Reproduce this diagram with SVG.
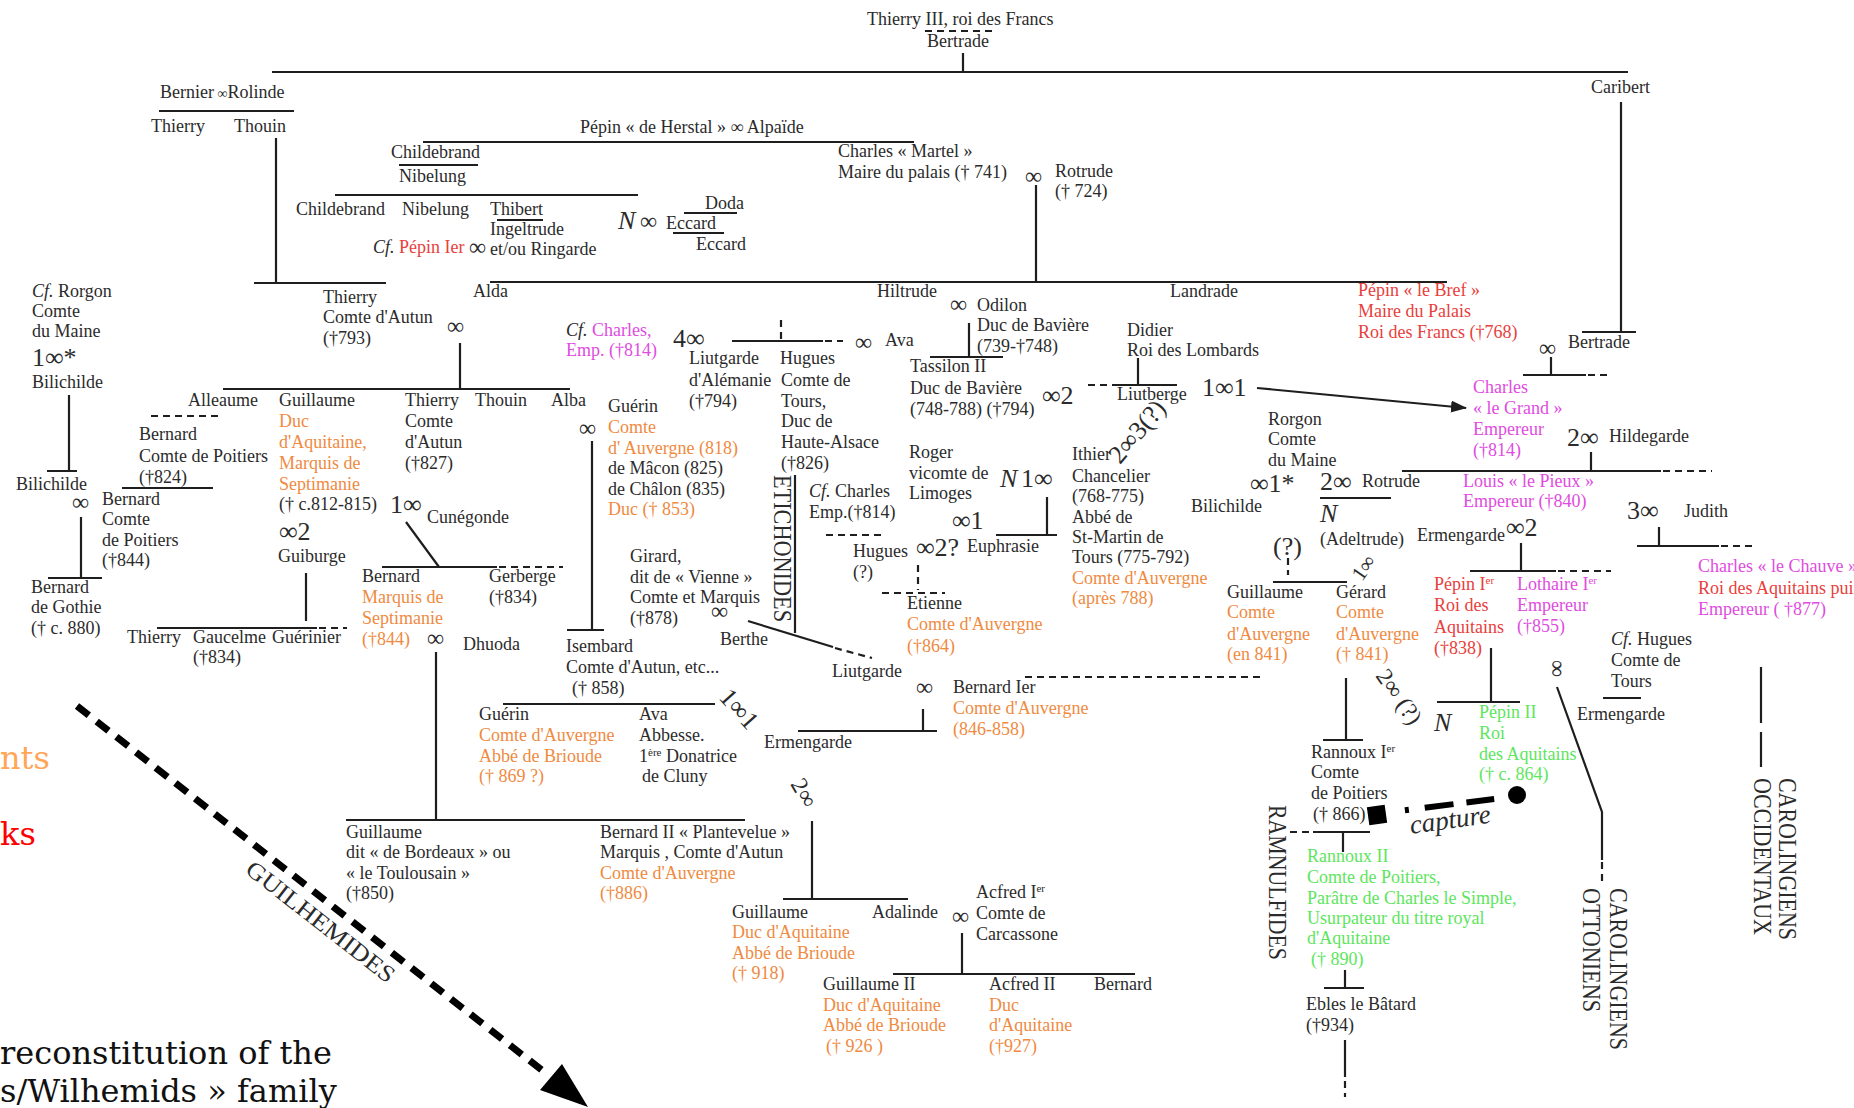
<svg xmlns="http://www.w3.org/2000/svg" width="1854" height="1108" viewBox="0 0 1854 1108">
<style>
text{font-family:"Liberation Serif","Times New Roman",serif;font-size:18px;fill:#2b2b2b}
.o{fill:#ef8a3f}.r{fill:#e8403c}.m{fill:#e04ce0}.g{fill:#5ce65c}
.i{font-style:italic}
.b{font-size:26px}
.inf{font-size:24px}
.lab{font-size:26px}
.sup{font-size:11px}
.dv{font-family:"DejaVu Serif",serif;font-size:32px}
.ln{stroke:#1e1e1e;stroke-width:2.2;fill:none}
.ds{stroke:#1e1e1e;stroke-width:2.2;fill:none;stroke-dasharray:7 5}
</style>
<defs>
<marker id="ah" markerWidth="16" markerHeight="12" refX="15" refY="6" orient="auto" markerUnits="userSpaceOnUse"><path d="M0,0 L16,6 L0,12 z" fill="#1e1e1e"/></marker>
</defs>

<g id="connectors">
<path class="ln" d="M272,72 H1628 M963,53 V72"/>
<path class="ds" d="M925,31 H993" stroke-dasharray="6 4"/>
<path class="ln" d="M159,111 H294 M276,138 V283 M254,283 H386"/>
<path class="ln" d="M423,142 H914 M399,165 H478 M335,195 H638 M497,220 H543"/>
<path class="ln" d="M684,213 H737 M673,233 H724"/>
<path class="ln" d="M1036,185 V282 M490,282 H1447"/>
<path class="ln" d="M1621,102 V332 M1582,332 H1636"/>
<path class="ln" d="M1551,357 V375 M1523,375 H1586"/>
<path class="ds" d="M1588,375 H1611"/>
<path class="ln" d="M460,343 V389 M223,389 H570"/>
<path class="ds" d="M151,416 H218"/>
<path class="ln" d="M122,488 H213"/>
<path class="ln" d="M69,395 V471 M47,471 H77 M81,517 V578 M48,578 H102"/>
<path class="ln" d="M306,573 V621 M157,628 H317"/>
<path class="ds" d="M319,628 H347"/>
<path class="ln" d="M406,522 L439,567 M382,567 H497"/>
<path class="ds" d="M499,567 H563"/>
<path class="ln" d="M436,652 V820 M346,820 H745"/>
<path class="ln" d="M592,441 V630 M567,630 H604 M503,704 H715"/>
<path class="ln" d="M732,341 H823"/>
<path class="ds" d="M825,341 H843 M781,320 V341"/>
<path class="ln" d="M969,323 V357 M930,357 H1003"/>
<path class="ln" d="M1138,358 V385 M1112,385 H1177"/>
<path class="ds" d="M1088,385 H1110"/>
<path class="ln" d="M1257,388 L1466,408" marker-end="url(#ah)"/>
<path class="ln" d="M1591,452 V471 M1402,471 H1661"/>
<path class="ds" d="M1663,471 H1712"/>
<path class="ln" d="M1320,498 H1391"/>
<path class="ln" d="M1659,527 V546 M1637,546 H1719"/>
<path class="ds" d="M1721,546 H1757"/>
<path class="ln" d="M1521,543 V571 M1470,571 H1556"/>
<path class="ds" d="M1558,571 H1611"/>
<path class="ds" d="M1288,558 V575"/>
<path class="ln" d="M1273,582 H1347"/>
<path class="ds" d="M1025,677 H1262" stroke-dasharray="6 4"/>
<path class="ln" d="M1346,678 V740 M1323,740 H1363"/>
<path class="ln" d="M1491,648 V702 M1437,702 H1520"/>
<path class="ln" d="M1557,687 L1602,812 V860"/>
<path class="ds" d="M1602,862 V885" stroke-dasharray="5 6"/>
<path class="ln" d="M1603,698 H1641"/>
<path class="ln" d="M1761,667 V723 M1761,732 V767"/>
<path class="ln" d="M795,475 V633"/>
<path class="ds" d="M826,535 H881"/>
<path class="ds" d="M918,565 V590 M882,593 H945"/>
<path class="ln" d="M1047,497 V535 M996,535 H1057"/>
<path class="ln" d="M748,621 L833,647"/>
<path class="ds" d="M835,648 L872,658"/>
<path class="ln" d="M923,709 V731 M798,731 H937"/>
<path class="ds" d="M1290,832 H1313"/>
<path class="ln" d="M1313,832 H1370 M1343,832 V852"/>
<path class="ln" d="M1345,970 V988 M1324,988 H1364 M1345,1040 V1077"/>
<path class="ds" d="M1345,1081 V1097" stroke-dasharray="4 7"/>
<path class="ln" d="M812,821 V899 M783,899 H908"/>
<path class="ln" d="M962,933 V974 M893,974 H1135"/>
<g id="capture-link">
<rect x="1368" y="806" width="18" height="18" fill="#000" transform="rotate(-8 1377 815)"/>
<path d="M1391,812 L1510,797" stroke="#000" stroke-width="6" fill="none" stroke-dasharray="0 14 4 16 29 13 28 40"/>
<circle cx="1517" cy="795" r="9" fill="#000"/>
</g>
<g id="guilhemides-arrow">
<path d="M77,706 L548,1075" stroke="#000" stroke-width="7" fill="none" stroke-dasharray="15 10"/>
<polygon points="540,1090 562,1064 588,1107" fill="#000"/>
</g>
</g>

<g id="n-thierry3"><text x="867" y="25">Thierry III, roi des Francs</text><text x="927" y="47">Bertrade</text></g>
<g id="n-bernier"><text x="160" y="98">Bernier<tspan style="font-size:14px"> ∞</tspan>Rolinde</text></g>
<g id="n-thierry-a"><text x="151" y="132">Thierry</text></g>
<g id="n-thouin-a"><text x="234" y="132">Thouin</text></g>
<g id="n-caribert"><text x="1591" y="93">Caribert</text></g>
<g id="n-pepin-herstal"><text x="580" y="133">Pépin « de Herstal »  ∞ Alpaïde</text></g>
<g id="n-childebrand1"><text x="391" y="158">Childebrand</text></g>
<g id="n-nibelung1"><text x="399" y="182">Nibelung</text></g>
<g id="n-charles-martel"><text x="838" y="157">Charles « Martel »</text><text x="838" y="178">Maire du palais († 741)</text><text class="inf" x="1025" y="184">∞</text></g>
<g id="n-rotrude"><text x="1055" y="177">Rotrude</text><text x="1055" y="197">(† 724)</text></g>
<g id="n-childebrand2"><text x="296" y="215">Childebrand</text></g>
<g id="n-nibelung2"><text x="402" y="215">Nibelung</text></g>
<g id="n-thibert"><text x="490" y="215">Thibert</text><text x="490" y="235">Ingeltrude</text><text x="490" y="255">et/ou Ringarde</text></g>
<g id="n-pepin-cf"><text x="373" y="253"><tspan class="i">Cf.</tspan> <tspan class="r">Pépin Ier</tspan></text><text class="inf" x="469" y="255">∞</text></g>
<g id="n-eccard"><text class="b i" x="618" y="229">N</text><text class="inf" x="640" y="229">∞</text><text x="666" y="229">Eccard</text></g>
<g id="n-doda"><text x="705" y="209">Doda</text><text x="696" y="250">Eccard</text></g>
<g id="n-alda"><text x="473" y="297">Alda</text></g>
<g id="n-hiltrude"><text x="877" y="297">Hiltrude</text></g>
<g id="n-landrade"><text x="1170" y="297">Landrade</text></g>
<g id="n-pepin-bref"><text class="r" x="1358" y="296">Pépin « le Bref »</text><text class="r" x="1358" y="317">Maire du Palais</text><text class="r" x="1358" y="338">Roi des Francs (†768)</text></g>
<g id="n-thierry-autun"><text x="323" y="303">Thierry</text><text x="323" y="323">Comte d'Autun</text><text x="323" y="344">(†793)</text><text class="inf" x="447" y="334">∞</text></g>
<g id="n-rorgon-cf"><text x="32" y="297"><tspan class="i">Cf.</tspan> Rorgon</text><text x="32" y="317">Comte</text><text x="32" y="337">du Maine</text><text class="b" x="32" y="366">1∞*</text><text x="32" y="388">Bilichilde</text></g>
<g id="n-charles-cf1"><text x="566" y="336"><tspan class="i">Cf.</tspan> <tspan class="m">Charles,</tspan></text><text class="m" x="566" y="356">Emp. (†814)</text></g>
<g id="n-4"><text class="b" x="673" y="347">4∞</text></g>
<g id="n-ava1"><text class="inf" x="855" y="350">∞</text><text x="885" y="346">Ava</text></g>
<g id="n-odilon"><text class="inf" x="950" y="312">∞</text><text x="977" y="311">Odilon</text><text x="977" y="331">Duc de Bavière</text><text x="977" y="352">(739-†748)</text></g>
<g id="n-didier"><text x="1127" y="336">Didier</text><text x="1127" y="356">Roi des Lombards</text></g>
<g id="n-bertrade2"><text class="inf" x="1539" y="356">∞</text><text x="1568" y="348">Bertrade</text></g>
<g id="n-liutgarde1"><text x="689" y="364">Liutgarde</text><text x="689" y="386">d'Alémanie</text><text x="689" y="407">(†794)</text></g>
<g id="n-hugues-tours"><text x="780" y="364">Hugues</text><text x="781" y="386">Comte de</text><text x="781" y="407">Tours,</text><text x="781" y="427">Duc de</text><text x="781" y="448">Haute-Alsace</text><text x="781" y="469">(†826)</text></g>
<g id="n-tassilon"><text x="910" y="372">Tassilon II</text><text x="910" y="394">Duc de Bavière</text><text x="910" y="415">(748-788) (†794)</text><text class="b" x="1042" y="404">∞2</text></g>
<g id="n-liutberge"><text x="1117" y="400">Liutberge</text><text class="b" x="1202" y="396">1∞1</text><text class="b" transform="translate(1120,465) rotate(-50)">2∞3(?)</text></g>
<g id="n-charlemagne"><text class="m" x="1473" y="393">Charles</text><text class="m" x="1473" y="414">« le Grand »</text><text class="m" x="1473" y="435">Empereur</text><text class="m" x="1473" y="456">(†814)</text></g>
<g id="n-hildegarde"><text class="b" x="1567" y="446">2∞</text><text x="1609" y="442">Hildegarde</text></g>
<g id="n-alleaume"><text x="188" y="406">Alleaume</text></g>
<g id="n-guillaume-gellone"><text x="279" y="406">Guillaume</text><text class="o" x="279" y="427">Duc</text><text class="o" x="279" y="448">d'Aquitaine,</text><text class="o" x="279" y="469">Marquis de</text><text class="o" x="279" y="490">Septimanie</text><text x="279" y="510">(† c.812-815)</text></g>
<g id="n-thierry-827"><text x="405" y="406">Thierry</text><text x="405" y="427">Comte</text><text x="405" y="448">d'Autun</text><text x="405" y="469">(†827)</text></g>
<g id="n-thouin-b"><text x="475" y="406">Thouin</text></g>
<g id="n-alba"><text x="551" y="406">Alba</text></g>
<g id="n-bernard-824"><text x="139" y="440">Bernard</text><text x="139" y="462">Comte de Poitiers</text><text x="139" y="483">(†824)</text></g>
<g id="n-guerin1"><text class="inf" x="579" y="436">∞</text><text x="608" y="412">Guérin</text><text class="o" x="608" y="433">Comte</text><text class="o" x="608" y="454">d' Auvergne (818)</text><text x="608" y="474">de Mâcon (825)</text><text x="608" y="495">de Châlon (835)</text><text class="o" x="608" y="515">Duc († 853)</text></g>
<g id="n-rorgon"><text x="1268" y="425">Rorgon</text><text x="1268" y="445">Comte</text><text x="1268" y="466">du Maine</text></g>
<g id="n-roger"><text x="909" y="458">Roger</text><text x="909" y="479">vicomte de</text><text x="909" y="499">Limoges</text><text class="b i" x="1000" y="487">N</text><text class="b" x="1021" y="487">1∞</text></g>
<g id="n-ithier"><text x="1072" y="460">Ithier</text><text x="1072" y="482">Chancelier</text><text x="1072" y="502">(768-775)</text><text x="1072" y="523">Abbé de</text><text x="1072" y="543">St-Martin de</text><text x="1072" y="563">Tours (775-792)</text><text class="o" x="1072" y="584">Comte d'Auvergne</text><text class="o" x="1072" y="604">(après 788)</text></g>
<g id="n-bilichilde2"><text class="b" x="1250" y="492">∞1*</text><text x="1191" y="512">Bilichilde</text></g>
<g id="n-rotrude2"><text class="b" x="1320" y="490">2∞</text><text x="1362" y="487">Rotrude</text><text class="b i" x="1320" y="522">N</text><text x="1320" y="545">(Adeltrude)</text><text class="b" x="1273" y="555">(?)</text><text style="font-size:21px" transform="translate(1362,582) rotate(-55)">1∞</text></g>
<g id="n-louis"><text class="m" x="1463" y="487">Louis « le Pieux »</text><text class="m" x="1463" y="507">Empereur (†840)</text></g>
<g id="n-judith"><text class="b" x="1627" y="519">3∞</text><text x="1684" y="517">Judith</text></g>
<g id="n-ermengarde1"><text x="1417" y="541">Ermengarde</text><text class="b" x="1506" y="536">∞2</text></g>
<g id="n-charles-cf2"><text x="809" y="497"><tspan class="i">Cf.</tspan> Charles</text><text x="809" y="518">Emp.(†814)</text></g>
<g id="n-cunegonde"><text class="b" x="390" y="513">1∞</text><text x="427" y="523">Cunégonde</text></g>
<g id="n-bilichilde1"><text x="16" y="490">Bilichilde</text><text class="inf" x="72" y="510">∞</text></g>
<g id="n-bernard-844"><text x="102" y="505">Bernard</text><text x="102" y="525">Comte</text><text x="102" y="546">de Poitiers</text><text x="102" y="566">(†844)</text></g>
<g id="n-guiburge"><text class="b" x="279" y="540">∞2</text><text x="278" y="562">Guiburge</text></g>
<g id="n-bernard-gothie"><text x="31" y="593">Bernard</text><text x="31" y="613">de Gothie</text><text x="31" y="634">(† c. 880)</text></g>
<g id="n-bernard-septimanie"><text x="362" y="582">Bernard</text><text class="o" x="362" y="603">Marquis de</text><text class="o" x="362" y="624">Septimanie</text><text class="o" x="362" y="645">(†844)</text></g>
<g id="n-gerberge"><text x="489" y="582">Gerberge</text><text x="489" y="603">(†834)</text></g>
<g id="n-dhuoda"><text class="inf" x="427" y="646">∞</text><text x="463" y="650">Dhuoda</text></g>
<g id="n-thierry-b"><text x="127" y="643">Thierry</text></g>
<g id="n-gaucelme"><text x="193" y="643">Gaucelme</text><text x="193" y="663">(†834)</text></g>
<g id="n-guerinier"><text x="272" y="643">Guérinier</text></g>
<g id="n-euphrasie"><text class="b" x="952" y="529">∞1</text><text class="b" x="916" y="556">∞2?</text><text x="967" y="552">Euphrasie</text></g>
<g id="n-hugues2"><text x="853" y="557">Hugues</text><text x="853" y="578">(?)</text></g>
<g id="n-girard"><text x="630" y="562">Girard,</text><text x="630" y="583">dit de « Vienne »</text><text x="630" y="603">Comte et Marquis</text><text x="630" y="624">(†878)</text><text class="inf" x="711" y="619">∞</text></g>
<g id="n-berthe"><text x="720" y="645">Berthe</text></g>
<g id="n-etienne"><text x="907" y="609">Etienne</text><text class="o" x="907" y="630">Comte d'Auvergne</text><text class="o" x="907" y="652">(†864)</text></g>
<g id="n-isembard"><text x="566" y="652">Isembard</text><text x="566" y="673">Comte d'Autun, etc...</text><text x="572" y="694">(† 858)</text><text class="b" transform="translate(718,698) rotate(48)">1∞1</text></g>
<g id="n-liutgarde2"><text x="832" y="677">Liutgarde</text></g>
<g id="n-bernard1"><text class="inf" x="916" y="695">∞</text><text x="953" y="693">Bernard Ier</text><text class="o" x="953" y="714">Comte d'Auvergne</text><text class="o" x="953" y="735">(846-858)</text></g>
<g id="n-guillaume-841"><text x="1227" y="598">Guillaume</text><text class="o" x="1227" y="618">Comte</text><text class="o" x="1227" y="640">d'Auvergne</text><text class="o" x="1227" y="660">(en 841)</text></g>
<g id="n-gerard"><text x="1336" y="598">Gérard</text><text class="o" x="1336" y="618">Comte</text><text class="o" x="1336" y="640">d'Auvergne</text><text class="o" x="1336" y="660">(† 841)</text></g>
<g id="n-pepin1"><text class="r" x="1434" y="590">Pépin I<tspan class="sup" baseline-shift="super">er</tspan></text><text class="r" x="1434" y="611">Roi des</text><text class="r" x="1434" y="633">Aquitains</text><text class="r" x="1434" y="654">(†838)</text></g>
<g id="n-lothaire"><text class="m" x="1517" y="590">Lothaire I<tspan class="sup" baseline-shift="super">er</tspan></text><text class="m" x="1517" y="611">Empereur</text><text class="m" x="1517" y="632">(†855)</text><text class="inf" transform="translate(1550,660) rotate(90)">∞</text></g>
<g id="n-charles-chauve"><text class="m" x="1698" y="572">Charles « le Chauve »</text><text class="r" x="1698" y="594">Roi des Aquitains puis</text><text class="m" x="1698" y="615">Empereur ( †877)</text></g>
<g id="n-hugues-cf"><text x="1611" y="645"><tspan class="i">Cf.</tspan> Hugues</text><text x="1611" y="666">Comte de</text><text x="1611" y="687">Tours</text></g>
<g id="n-ermengarde3"><text x="1577" y="720">Ermengarde</text></g>
<g id="n-guerin2"><text x="479" y="720">Guérin</text><text class="o" x="479" y="741">Comte d'Auvergne</text><text class="o" x="479" y="762">Abbé de Brioude</text><text class="o" x="479" y="782">(† 869 ?)</text></g>
<g id="n-ava2"><text x="639" y="720">Ava</text><text x="639" y="741">Abbesse.</text><text x="639" y="762">1<tspan class="sup" baseline-shift="super">ère</tspan> Donatrice</text><text x="642" y="782">de Cluny</text></g>
<g id="n-ermengarde2"><text x="764" y="748">Ermengarde</text></g>
<g id="n-n2"><text style="font-size:24px" transform="translate(1375,676) rotate(55)">2∞ (?)</text><text class="b i" x="1434" y="731">N</text></g>
<g id="n-pepin2"><text class="g" x="1479" y="718">Pépin II</text><text class="g" x="1479" y="739">Roi</text><text class="g" x="1479" y="760">des Aquitains</text><text class="g" x="1479" y="780">(† c. 864)</text></g>
<g id="n-rannoux1"><text x="1311" y="758">Rannoux I<tspan class="sup" baseline-shift="super">er</tspan></text><text x="1311" y="778">Comte</text><text x="1311" y="799">de Poitiers</text><text x="1313" y="820">(† 866)</text></g>
<g id="n-capture"><text class="i" style="font-size:27px" transform="translate(1411,834) rotate(-8)">capture</text></g>
<g id="n-rannoux2"><text class="g" x="1307" y="862">Rannoux II</text><text class="g" x="1307" y="883">Comte de Poitiers,</text><text class="g" x="1307" y="904">Parâtre de Charles le Simple,</text><text class="g" x="1307" y="924">Usurpateur du titre royal</text><text class="g" x="1307" y="944">d'Aquitaine</text><text class="g" x="1311" y="965">(† 890)</text></g>
<g id="n-ebles"><text x="1306" y="1010">Ebles le Bâtard</text><text x="1306" y="1031">(†934)</text></g>
<g id="n-guillaume-bordeaux"><text x="346" y="838">Guillaume</text><text x="346" y="858">dit « de Bordeaux » ou</text><text x="346" y="879">« le Toulousain »</text><text x="346" y="899">(†850)</text></g>
<g id="n-bernard2"><text x="600" y="838">Bernard II « Plantevelue »</text><text x="600" y="858">Marquis , Comte d'Autun</text><text class="o" x="600" y="879">Comte d'Auvergne</text><text class="o" x="600" y="899">(†886)</text><text style="font-size:24px" transform="translate(790,784) rotate(60)">2∞</text></g>
<g id="n-guillaume-pieux"><text x="732" y="918">Guillaume</text><text class="o" x="732" y="938">Duc d'Aquitaine</text><text class="o" x="732" y="959">Abbé de Brioude</text><text class="o" x="732" y="979">(† 918)</text></g>
<g id="n-adalinde"><text x="872" y="918">Adalinde</text></g>
<g id="n-acfred1"><text class="inf" x="952" y="924">∞</text><text x="976" y="898">Acfred I<tspan class="sup" baseline-shift="super">er</tspan></text><text x="976" y="919">Comte de</text><text x="976" y="940">Carcassone</text></g>
<g id="n-guillaume2"><text x="823" y="990">Guillaume II</text><text class="o" x="823" y="1011">Duc d'Aquitaine</text><text class="o" x="823" y="1031">Abbé de Brioude</text><text class="o" x="826" y="1052">(† 926 )</text></g>
<g id="n-acfred2"><text x="989" y="990">Acfred II</text><text class="o" x="989" y="1011">Duc</text><text class="o" x="989" y="1031">d'Aquitaine</text><text class="o" x="989" y="1052">(†927)</text></g>
<g id="n-bernard3"><text x="1094" y="990">Bernard</text></g>

<g id="labels">
<text class="lab" textLength="147" lengthAdjust="spacingAndGlyphs" transform="translate(774,475) rotate(90)">ETICHONIDES</text>
<text class="lab" textLength="155" lengthAdjust="spacingAndGlyphs" transform="translate(1269,805) rotate(90)">RAMNULFIDES</text>
<text class="lab" textLength="162" lengthAdjust="spacingAndGlyphs" transform="translate(1610,888) rotate(90)">CAROLINGIENS</text>
<text class="lab" textLength="124" lengthAdjust="spacingAndGlyphs" transform="translate(1583,888) rotate(90)">OTTONIENS</text>
<text class="lab" textLength="162" lengthAdjust="spacingAndGlyphs" transform="translate(1779,778) rotate(90)">CAROLINGIENS</text>
<text class="lab" textLength="157" lengthAdjust="spacingAndGlyphs" transform="translate(1754,778) rotate(90)">OCCIDENTAUX</text>
<text style="font-size:24px" textLength="182" lengthAdjust="spacingAndGlyphs" transform="translate(244,872) rotate(38)">GUILHEMIDES</text>
</g>

<g id="legend">
<text class="dv" x="0" y="769" style="fill:#ffa657">nts</text>
<text class="dv" x="0" y="845" style="fill:#ff0000">ks</text>
<text class="dv" x="0" y="1064" style="fill:#111">reconstitution of the</text>
<text class="dv" x="0" y="1102" style="fill:#111">s/Wilhemids » family</text>
</g>
</svg>
